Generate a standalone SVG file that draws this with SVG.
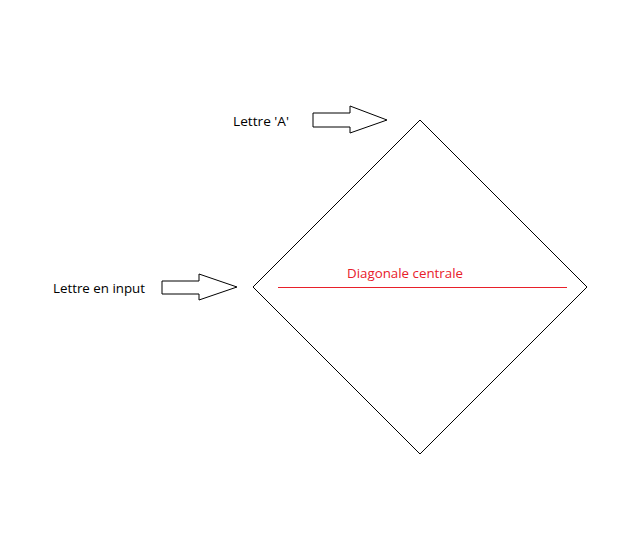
<svg xmlns="http://www.w3.org/2000/svg" width="631" height="558" viewBox="0 0 631 558">
<style>
.t{font-family:"Open Sans","Liberation Sans",sans-serif;font-size:13px;fill:#000}
.s{fill:#fff;stroke:#000;stroke-width:1}
</style>
<rect width="631" height="558" fill="#fff"/>
<g id="diamond"><polygon class="s" points="420,120 587,287 420,454 253,287"/></g>
<g id="diagonal">
<line x1="278" y1="287.5" x2="567" y2="287.5" stroke="#e8202a" stroke-width="1" shape-rendering="crispEdges"/>
<text x="347" y="278" class="t" style="fill:#e8202a" textLength="116" lengthAdjust="spacingAndGlyphs">Diagonale centrale</text>
</g>
<g id="label-a"><text x="233" y="126" class="t" textLength="56" lengthAdjust="spacingAndGlyphs">Lettre 'A'</text></g>
<g id="label-input"><text x="53" y="293" class="t" textLength="92" lengthAdjust="spacingAndGlyphs">Lettre en input</text></g>
<g id="connectors">
<polygon class="s" points="313,113 350,113 350,106 387,120 350,133 350,127 313,127"/>
<polygon class="s" points="162,281 199,281 199,274 237,287 199,300 199,294 162,294"/>
</g>
</svg>
